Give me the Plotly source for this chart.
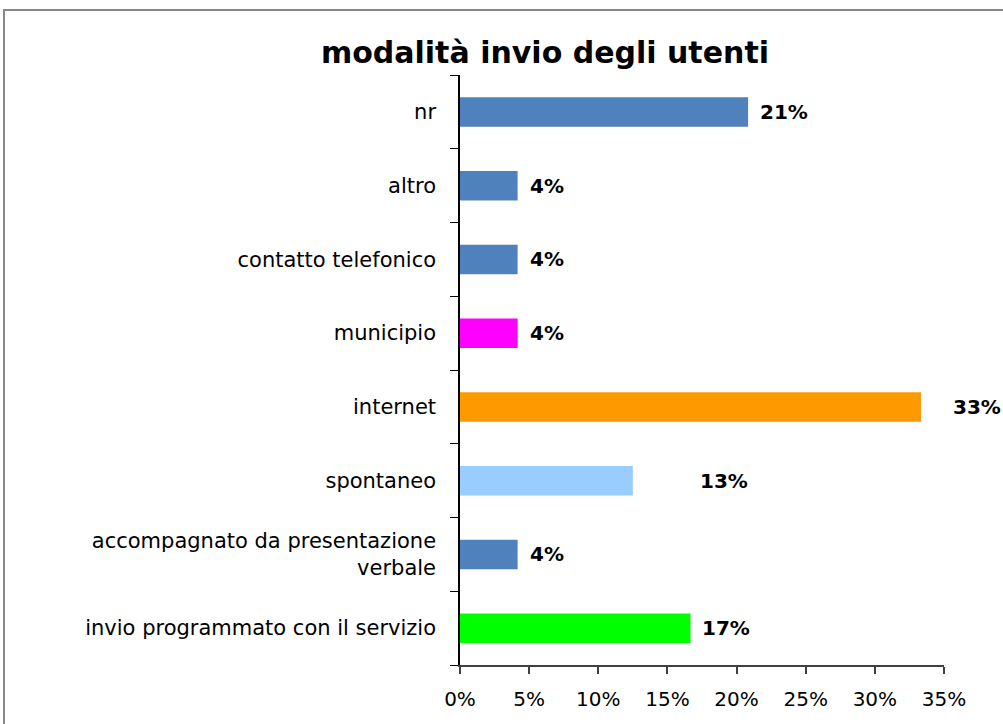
import plotly.graph_objects as go

categories = [
    "invio programmato con il servizio",
    "accompagnato da presentazione<br>verbale",
    "spontaneo",
    "internet",
    "municipio",
    "contatto telefonico",
    "altro",
    "nr",
]
values = [4/24, 1/24, 3/24, 8/24, 1/24, 1/24, 1/24, 5/24]
value_labels = ["17%", "4%", "13%", "33%", "4%", "4%", "4%", "21%"]
colors = ["#00FF00", "#4F81BD", "#99CCFF", "#FF9900", "#FF00FF", "#4F81BD", "#4F81BD", "#4F81BD"]
label_shift = [10, 10, 65, 30, 10, 10, 10, 10]
tick_vals = [0, 0.05, 0.10, 0.15, 0.20, 0.25, 0.30, 0.35]
tick_text = ["0%", "5%", "10%", "15%", "20%", "25%", "30%", "35%"]

FONT = "DejaVu Sans"

fig = go.Figure(go.Bar(
    y=categories, x=values, orientation="h",
    marker=dict(color=colors, line=dict(width=0)),
    hoverinfo="skip",
))

for c, v, t, s in zip(categories, values, value_labels, label_shift):
    fig.add_annotation(x=v, y=c, text="<b>" + t + "</b>", showarrow=False,
                       xanchor="left", yanchor="middle", xshift=s,
                       font=dict(family=FONT, size=20, color="black"))

W, H = 1003, 724
L, T = 460, 75
PW, PH = 484, 590

fig.update_layout(
    width=W, height=H,
    margin=dict(l=L, r=W - L - PW, t=T, b=H - T - PH, pad=0),
    paper_bgcolor="white", plot_bgcolor="white",
    bargap=0.6,
    showlegend=False,
    title=dict(text="<b>modalità invio degli utenti</b>", x=545 / W, xanchor="center",
               y=1 - 52 / H, yanchor="middle",
               font=dict(family=FONT, size=30, color="black")),
    xaxis=dict(range=[0, 0.35], tickvals=tick_vals, ticktext=tick_text,
               showgrid=False, zeroline=False, showline=True, linecolor="#404040", linewidth=2,
               ticks="outside", ticklen=7, tickcolor="#404040", tickwidth=1.5,
               ticklabelstandoff=8,
               tickfont=dict(family=FONT, size=20, color="black"), fixedrange=True),
    yaxis=dict(type="category", showgrid=False, zeroline=False, showline=True,
               linecolor="black", linewidth=1.5, ticks="outside", ticklen=8,
               tickson="boundaries", tickcolor="black", ticklabelstandoff=18,
               tickfont=dict(family=FONT, size=21, color="black"), fixedrange=True),
)

# outer chart frame
fig.add_shape(type="rect", xref="paper", yref="paper",
              x0=(4 - L) / PW, x1=(1010 - L) / PW,
              y0=(T + PH - 730) / PH, y1=(T + PH - 10) / PH,
              line=dict(color="#888888", width=2), fillcolor="rgba(0,0,0,0)", layer="below")

fig.write_html(
    "out.html",
    config={"displayModeBar": False},
    post_script="document.body.style.margin='0';document.body.style.padding='0';",
)
